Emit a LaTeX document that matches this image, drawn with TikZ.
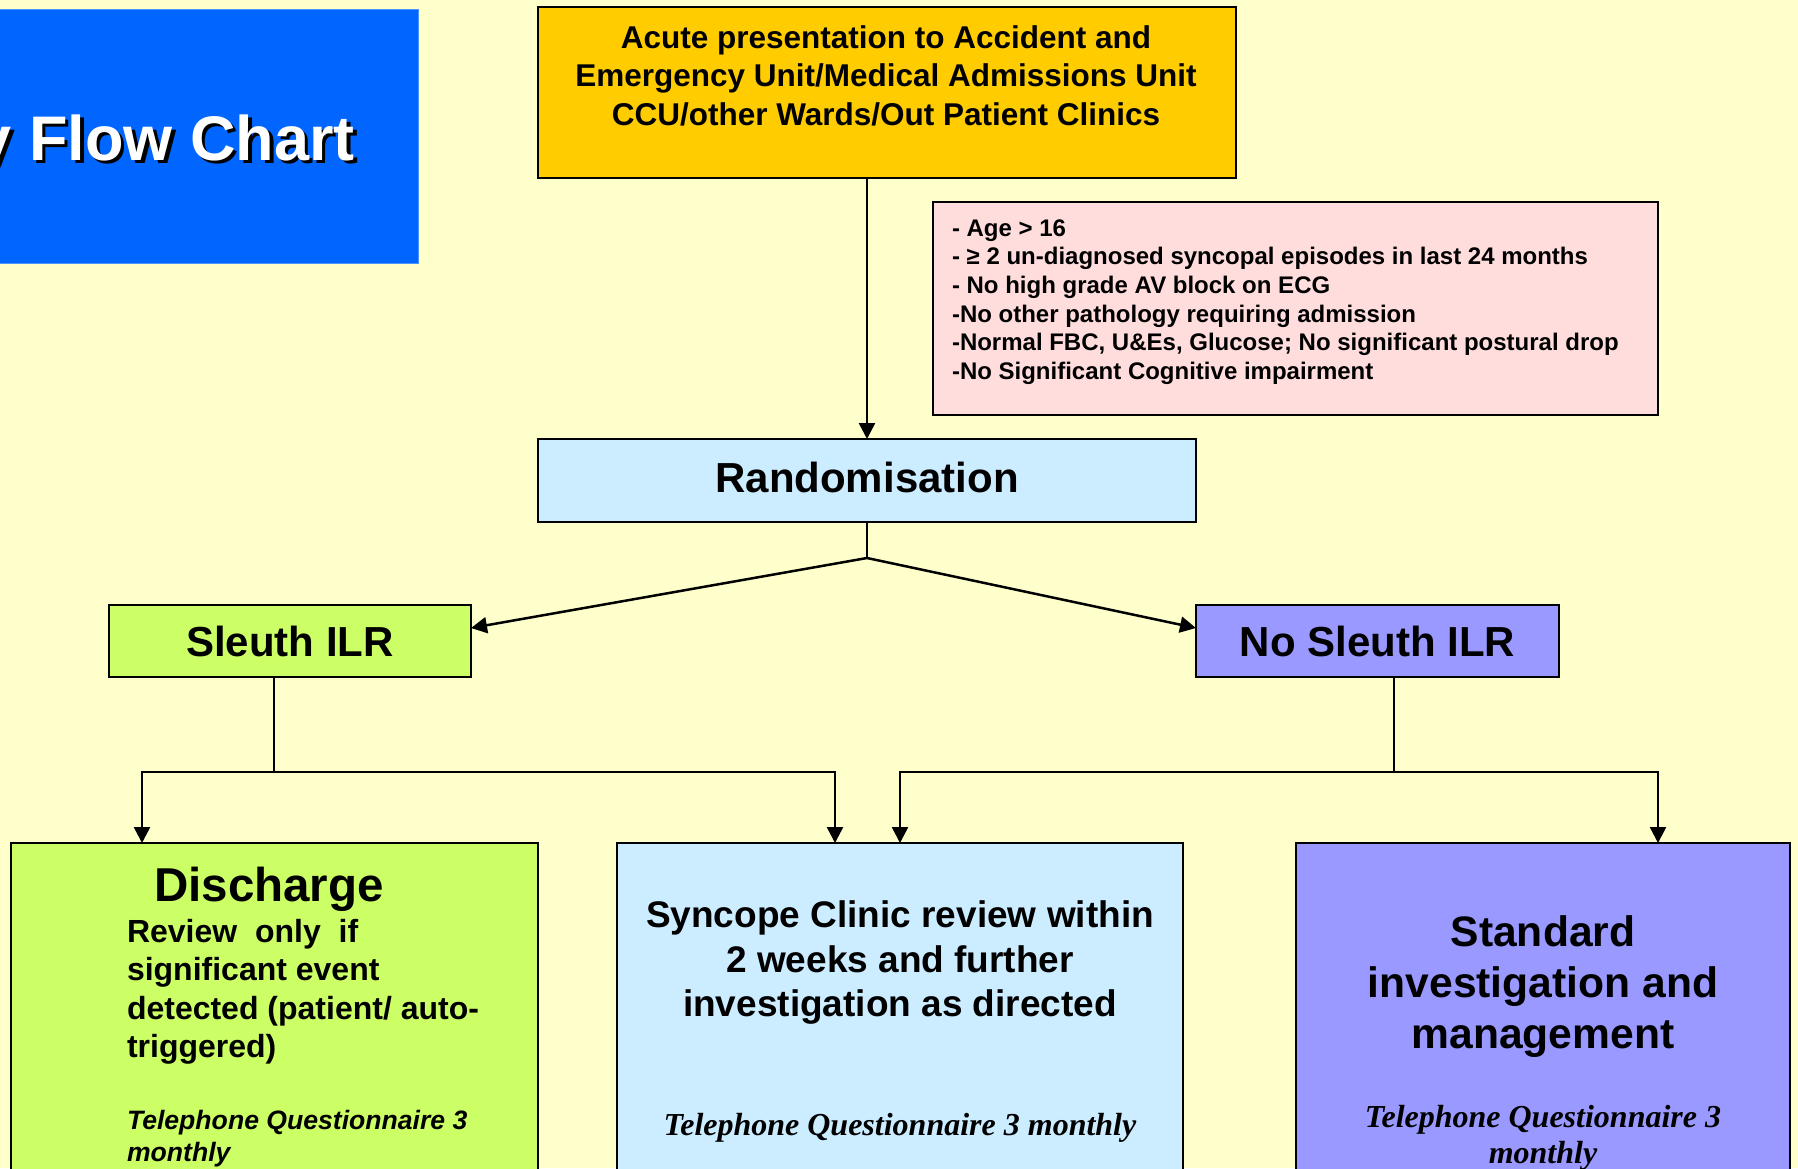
\documentclass[tikz,border=0pt]{standalone}
\usepackage{fontspec}
\setmainfont{Liberation Sans}
\newfontfamily\serifbi[BoldItalicFont={* Bold Italic}]{Liberation Serif}
\usetikzlibrary{arrows.meta,calc}
\definecolor{bg}{HTML}{FFFFCC}
\definecolor{titleblue}{HTML}{0066FF}
\definecolor{orangebox}{HTML}{FFCC00}
\definecolor{pinkbox}{HTML}{FFDDDD}
\definecolor{lightblue}{HTML}{CCECFF}
\definecolor{greenbox}{HTML}{CCFF66}
\definecolor{purplebox}{HTML}{9999FF}
\newcommand{\fsz}[2]{\fontsize{#1}{#2}\selectfont}
\begin{document}
\begin{tikzpicture}[x=1pt,y=-1pt,
  box/.style={draw=black, line width=2pt, inner sep=0pt, outer sep=0pt},
  conn/.style={line width=2.5pt, draw=black},
  arr/.style={conn, -{Triangle[length=16pt,width=16pt]}},
  txt/.style={inner sep=0pt, outer sep=0pt, font=\bfseries, text=black}]
\useasboundingbox (0,0) rectangle (1798,1168);
\clip (0,0) rectangle (1798,1168);
\fill[bg] (0,0) rectangle (1798,1168);

% title
\node[fill=titleblue, draw=titleblue!70!white, line width=1pt, minimum width=438pt, minimum height=254pt, inner sep=0pt] (titlebox) at (199,136) {};
\node[txt, anchor=base east, text=black, font=\fsz{63}{63}\bfseries] (titleshadow) at (358.5,163.5) {y Flow Chart};
\node[txt, anchor=base east, text=white, font=\fsz{63}{63}\bfseries] (title) at (355,160) {y Flow Chart};

% top box
\node[box, fill=orangebox, minimum width=698pt, minimum height=171pt] (acute) at (887,92.5) {};
\node[txt, anchor=north, align=center, font=\fsz{31.5}{38.5}\bfseries] (acutetext) at (886,25.5)
  {Acute presentation to Accident and\\Emergency Unit/Medical Admissions Unit\\CCU/other Wards/Out Patient Clinics};

% criteria
\node[box, fill=pinkbox, minimum width=725pt, minimum height=213pt] (crit) at (1295.5,308.5) {};
\node[txt, anchor=north west, align=left, font=\fsz{24}{28.6}\bfseries] (crittext) at (952,219.5)
  {- Age > 16\\
   - ≥ 2 un-diagnosed syncopal episodes in last 24 months\\
   - No high grade AV block on ECG\\
   -No other pathology requiring admission\\
   -Normal FBC, U\&Es, Glucose; No significant postural drop\\
   -No Significant Cognitive impairment};

% randomisation
\node[box, fill=lightblue, minimum width=658pt, minimum height=83pt] (rand) at (867,480.5) {};
\node[txt, font=\fsz{42}{50}\bfseries] (randtext) at (867,477) {Randomisation};

% arms
\node[box, fill=greenbox, minimum width=362pt, minimum height=72pt] (sleuth) at (290,641) {};
\node[txt, font=\fsz{42}{50}\bfseries] (sleuthtext) at (290,641) {Sleuth ILR};
\node[box, fill=purplebox, minimum width=363pt, minimum height=72pt] (nosleuth) at (1377.5,641) {};
\node[txt, font=\fsz{42}{50}\bfseries] (nosleuthtext) at (1377.5,641) {No Sleuth ILR};

% bottom boxes
\node[box, fill=greenbox, minimum width=527pt, minimum height=357pt] (discharge) at (274.5,1021.5) {};
\node[box, fill=lightblue, minimum width=566pt, minimum height=357pt] (clinic) at (900,1021.5) {};
\node[box, fill=purplebox, minimum width=494pt, minimum height=357pt] (standard) at (1543,1021.5) {};

\node[txt, anchor=base, font=\fsz{47.5}{50}\bfseries] (dischead) at (269,901) {Discharge};
\node[txt, anchor=north west, align=left, font=\fsz{32}{38.4}\bfseries] (disctext) at (127,919)
  {Review\ \ only\ \ if\\significant event\\detected (patient/ auto-\\triggered)};
\node[txt, anchor=north west, align=left, font=\fsz{26.6}{32}\bfseries\itshape] (discphone) at (127,1110)
  {Telephone Questionnaire 3\\monthly};

\node[txt, anchor=north, align=center, font=\fsz{37}{44.5}\bfseries] (clinictext) at (900,901)
  {Syncope Clinic review within\\2 weeks and further\\investigation as directed};
\node[txt, anchor=base, font=\fsz{32}{36}\serifbi\bfseries\itshape] (clinicphone) at (900,1135)
  {Telephone Questionnaire 3 monthly};

\node[txt, anchor=north, align=center, font=\fsz{42.6}{51}\bfseries] (stdtext) at (1543,916)
  {Standard\\investigation and\\management};
\node[txt, anchor=north, align=center, font=\fsz{32}{36}\serifbi\bfseries\itshape] (stdphone) at (1543,1105)
  {Telephone Questionnaire 3\\monthly};

% connectors
\draw[arr] (acute.south -| rand.north) -- (rand.north);
\coordinate (split) at (867,558);
\draw[conn] (rand.south) -- (split);
\draw[arr] (split) -- ($(sleuth.east)+(0,-13)$);
\draw[arr] (split) -- ($(nosleuth.west)+(0,-13)$);

\coordinate (sj) at (274,772);
\coordinate (dl) at (142,772);
\coordinate (dr) at (835,772);
\draw[conn] (sleuth.south -| sj) -- (sj);
\draw[arr] (sj) -- (dl) -- (dl |- discharge.north);
\draw[arr] (sj) -- (dr) -- (dr |- clinic.north);

\coordinate (nj) at (1394,772);
\coordinate (nl) at (900,772);
\coordinate (nr) at (1658,772);
\draw[conn] (nosleuth.south -| nj) -- (nj);
\draw[arr] (nj) -- (nl) -- (nl |- clinic.north);
\draw[arr] (nj) -- (nr) -- (nr |- standard.north);
\end{tikzpicture}
\end{document}
